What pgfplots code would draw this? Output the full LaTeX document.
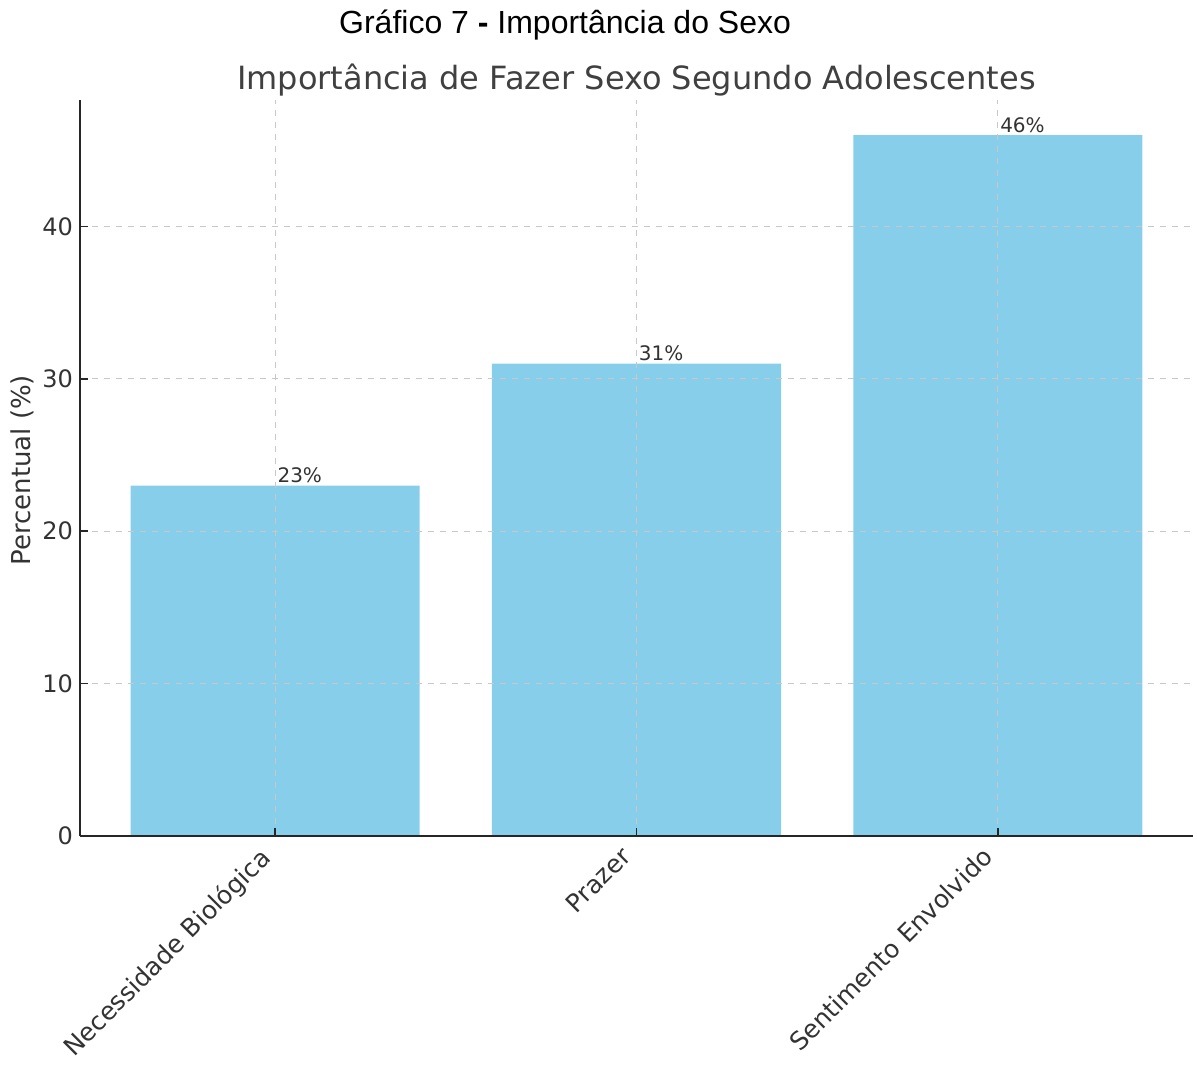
\documentclass[border=0pt]{standalone}
\usepackage{pgfplots}
\pgfplotsset{compat=1.18}
\usepackage{fontspec}
\setmainfont{DejaVu Sans}
\newfontfamily\capfont{Liberation Sans}
\definecolor{skyblue}{HTML}{87CEEB}
\definecolor{txt}{HTML}{333333}
\definecolor{gridc}{HTML}{C8C8C8}
\begin{document}
\begin{tikzpicture}
\useasboundingbox (-40pt,-114.5pt) rectangle (558.5pt,418pt);
\begin{axis}[
  at={(0,0)}, anchor=south west,
  scale only axis, width=556.5pt, height=368pt,
  xmin=-0.54, xmax=2.54, ymin=0, ymax=48.3,
  axis x line*=bottom, axis y line*=left,
  axis line style={-, line width=1pt, color=black!85},
  xtick={0,1,2},
  xticklabels={Necessidade Biológica, Prazer, Sentimento Envolvido},
  ytick={0,10,20,30,40},
  tick align=inside, major tick length=4pt,
  tick style={line width=0.8pt, color=black!85},
  /pgf/number format/assume math mode=true,
  ticklabel style={font=\fontsize{12}{14}\selectfont, text=txt},
  xticklabel style={xshift=-8.5pt, yshift=-3pt, rotate=45, anchor=north east, font=\fontsize{12.5}{14}\selectfont, inner sep=1pt},
  yticklabel style={xshift=0pt},
  grid=major,
  major grid style={dashed, gridc, line width=0.5pt},
  axis on top,
  clip=false,
]
\addplot[ybar, bar width=0.8, fill=skyblue, draw=none] coordinates {(0,23) (1,31) (2,46)};
\node[anchor=south west, inner sep=1pt, text=txt, font=\fontsize{10}{12}\selectfont] at (axis cs:0,23) {23\%};
\node[anchor=south west, inner sep=1pt, text=txt, font=\fontsize{10}{12}\selectfont] at (axis cs:1,31) {31\%};
\node[anchor=south west, inner sep=1pt, text=txt, font=\fontsize{10}{12}\selectfont] at (axis cs:2,46) {46\%};
\node[anchor=base, inner sep=0pt, text=black!75, font=\fontsize{16}{18}\selectfont] at (rel axis cs:0.5,1.0136) {Importância de Fazer Sexo Segundo Adolescentes};
\node[anchor=base, inner sep=0pt, font=\capfont\fontsize{16}{18}\selectfont] at (rel axis cs:0.4358,1.091) {Gráfico 7 \textbf{-} Importância do Sexo};
\node[rotate=90, anchor=center, inner sep=0pt, text=txt, font=\fontsize{13}{15}\selectfont] at ([xshift=-29pt]rel axis cs:0,0.497) {Percentual (\%)};
\end{axis}
\end{tikzpicture}
\end{document}
